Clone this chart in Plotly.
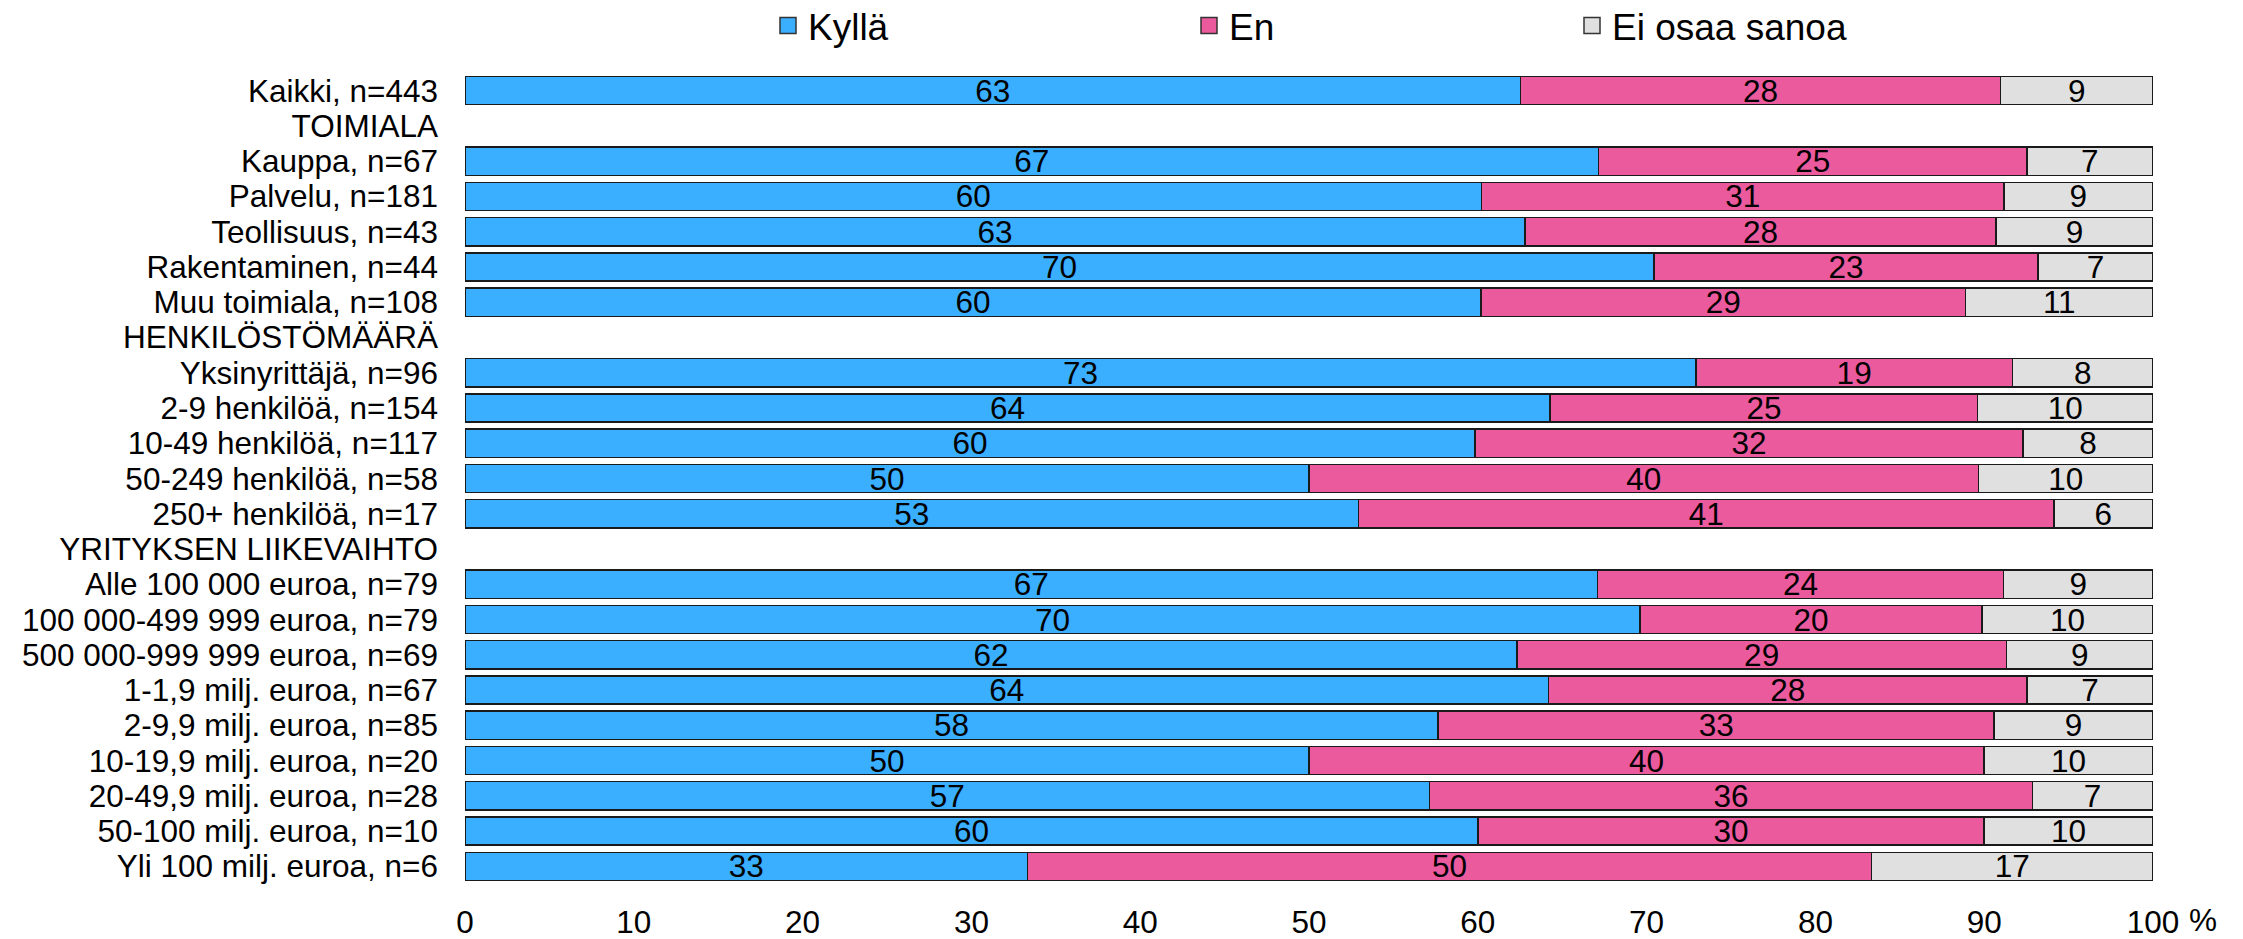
import plotly.graph_objects as go

# Rows top to bottom; section headers have no bars
categories = [
    "Kaikki, n=443",
    "TOIMIALA",
    "Kauppa, n=67",
    "Palvelu, n=181",
    "Teollisuus, n=43",
    "Rakentaminen, n=44",
    "Muu toimiala, n=108",
    "HENKILÖSTÖMÄÄRÄ",
    "Yksinyrittäjä, n=96",
    "2-9 henkilöä, n=154",
    "10-49 henkilöä, n=117",
    "50-249 henkilöä, n=58",
    "250+ henkilöä, n=17",
    "YRITYKSEN LIIKEVAIHTO",
    "Alle 100 000 euroa, n=79",
    "100 000-499 999 euroa, n=79",
    "500 000-999 999 euroa, n=69",
    "1-1,9 milj. euroa, n=67",
    "2-9,9 milj. euroa, n=85",
    "10-19,9 milj. euroa, n=20",
    "20-49,9 milj. euroa, n=28",
    "50-100 milj. euroa, n=10",
    "Yli 100 milj. euroa, n=6",
]

kylla = [62.53, None, 67.16, 60.22, 62.79, 70.45, 60.19, None, 72.92, 64.29, 59.83, 50.00,
         52.94, None, 67.09, 69.62, 62.32, 64.18, 57.65, 50.00, 57.14, 60.00, 33.33]
en = [28.44, None, 25.37, 30.94, 27.91, 22.73, 28.70, None, 18.75, 25.32, 32.48, 39.66,
      41.18, None, 24.05, 20.25, 28.99, 28.36, 32.94, 40.00, 35.71, 30.00, 50.00]
ei_osaa = [9.03, None, 7.46, 8.84, 9.30, 6.82, 11.11, None, 8.33, 10.39, 7.69, 10.34,
           5.88, None, 8.86, 10.13, 8.70, 7.46, 9.41, 10.00, 7.14, 10.00, 16.67]

series = [
    ("Kyllä", kylla, "#3BAFFF", "legend"),
    ("En", en, "#EC5A9E", "legend2"),
    ("Ei osaa sanoa", ei_osaa, "#E0E0E0", "legend3"),
]

FONT = "Arial, Liberation Sans, sans-serif"
# page body has an 8px margin, so the figure is drawn 8px smaller
W, H = 2235, 931

fig = go.Figure()
for name, vals, color, lg in series:
    fig.add_trace(go.Bar(
        x=vals, y=categories, orientation="h", name=name,
        marker=dict(color=color, line=dict(color="#1a1a1a", width=1.5)),
        texttemplate="%{x:.0f}", textposition="inside", insidetextanchor="middle",
        textangle=0, constraintext="none",
        textfont=dict(size=31.5, color="#000000", family=FONT),
        showlegend=False,
    ))
    # legend proxy with a bigger square symbol
    fig.add_trace(go.Scatter(
        x=[None], y=[None], mode="markers", name=name, legend=lg,
        marker=dict(symbol="square", size=16, color=color,
                    line=dict(color="#333333", width=1.5)),
    ))

leg = dict(y=1 - 18 / H, yref="container", xref="container",
           xanchor="left", yanchor="middle", orientation="h",
           font=dict(size=37, color="#000000", family=FONT),
           bgcolor="rgba(0,0,0,0)", borderwidth=0)

fig.update_layout(
    width=W, height=H,
    barmode="stack", bargap=0.2,
    template="none",
    paper_bgcolor="white", plot_bgcolor="white",
    margin=dict(l=457, r=90, t=65, b=55),
    font=dict(family=FONT, color="#000000", size=31.5),
    legend=dict(leg, x=760 / W),
    legend2=dict(leg, x=1181 / W),
    legend3=dict(leg, x=1564 / W),
    xaxis=dict(range=[0, 100], dtick=10, showgrid=False, zeroline=False,
               showline=False, ticks="", ticklabelstandoff=16,
               tickfont=dict(size=31.5), automargin=False),
    yaxis=dict(type="category", categoryorder="array", categoryarray=categories,
               tickmode="array", tickvals=categories, ticktext=categories,
               range=[len(categories) - 0.5, -0.5], showgrid=False,
               zeroline=False, showline=False, ticks="", ticklabelstandoff=26,
               tickfont=dict(size=31.5), automargin=False),
    annotations=[dict(text="%", x=1.0296, y=-0.044, xref="paper", yref="paper",
                      xanchor="center", yanchor="middle", showarrow=False,
                      font=dict(size=31.5, color="#000000"))],
)

fig.write_html("out.html")
